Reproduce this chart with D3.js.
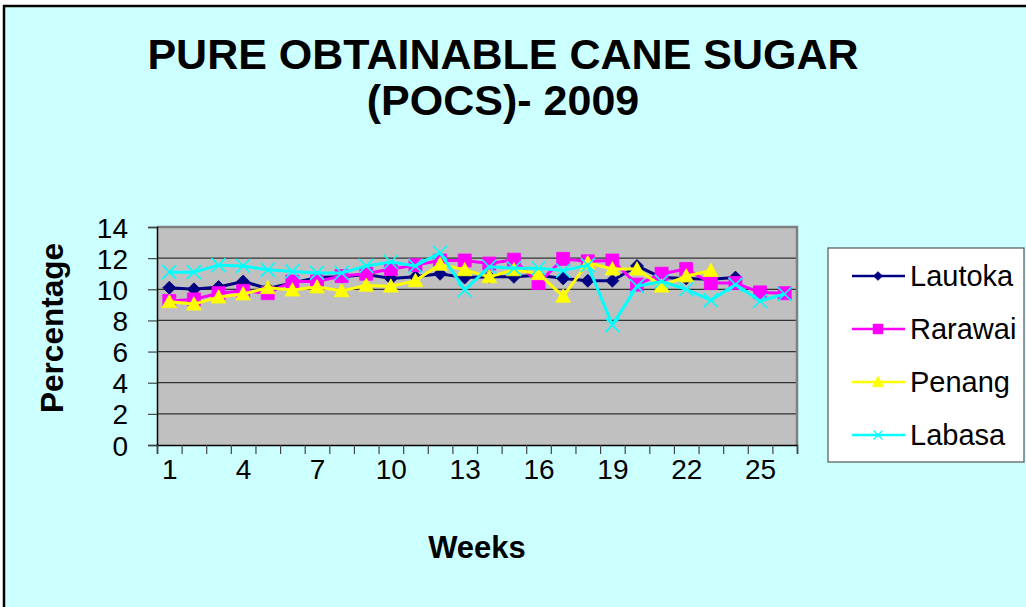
<!DOCTYPE html>
<html><head><meta charset="utf-8">
<script src="https://cdn.jsdelivr.net/npm/d3@7"></script>
<style>
html,body{margin:0;padding:0;background:#fff;}
svg{display:block;font-family:"Liberation Sans",Arial,sans-serif;}
</style></head>
<body>
<svg id="chart" width="1026" height="607"></svg>
<script>
const weeks = d3.range(1, 27);
const xTickLabels = [1, 4, 7, 10, 13, 16, 19, 22, 25];
const yTickLabels = [0, 2, 4, 6, 8, 10, 12, 14];
const seriesNames = ["Lautoka", "Rarawai", "Penang", "Labasa"];
const lautoka = [10.1, 10.0, 10.15, 10.5, 10.05, 10.4, 10.75, 10.8, 10.95, 10.7, 10.8, 11.0, 10.75, 10.8, 10.8, 10.9, 10.7, 10.55, 10.55, 11.5, 10.75, 10.7, 10.65, 10.75, null, null];
const rarawai = [9.25, 9.35, 9.75, 9.9, 9.75, 10.5, 10.5, 10.85, 11.0, 11.3, 11.55, 11.85, 11.85, 11.65, 11.9, 10.4, 11.95, 11.8, 11.85, 10.3, 11.0, 11.3, 10.4, 10.4, 9.8, 9.75];
const penang = [9.2, 9.05, 9.5, 9.7, 10.1, 9.95, 10.15, 9.9, 10.25, 10.2, 10.55, 11.6, 11.25, 10.8, 11.25, 11.0, 9.55, 11.7, 11.3, 11.3, 10.2, 10.85, 11.2, null, null, null];
const labasa = [11.1, 11.1, 11.55, 11.5, 11.25, 11.15, 11.05, 11.05, 11.5, 11.75, 11.5, 12.35, 9.95, 11.45, 11.35, 11.35, 11.2, 11.55, 7.7, 10.2, 10.5, 10.0, 9.3, 10.3, 9.25, 9.7];
const seriesColors = ["#000080", "#FF00FF", "#FFFF00", "#00FFFF"];
const seriesMarkers = ["diamond", "square", "triangle", "cross"];

const series = seriesNames.map((n, i) => ({
  name: n,
  values: [lautoka, rarawai, penang, labasa][i],
  color: seriesColors[i],
  marker: seriesMarkers[i]
}));

const svg = d3.select("#chart");
const L = 157, R = 797, T = 227, B = 445;

// background
svg.append("rect").attr("x", 4).attr("y", 6).attr("width", 1040).attr("height", 620)
  .attr("fill", "#CCFFFF").attr("stroke", "#000").attr("stroke-width", 2.5);

const x = d3.scaleLinear().domain([0.5, 26.5]).range([L, R]);
const y = d3.scaleLinear().domain([0, 14]).range([B, T]);

// plot area
svg.append("rect").attr("x", L).attr("y", T).attr("width", R - L).attr("height", B - T)
  .attr("fill", "#C0C0C0");

// gridlines
svg.append("g").selectAll("line").data(yTickLabels.filter(v => v > 0)).join("line")
  .attr("x1", L).attr("x2", R).attr("y1", d => y(d)).attr("y2", d => y(d))
  .attr("stroke", "#333").attr("stroke-width", 1.2);

// plot border (top, right)
svg.append("path").attr("d", `M${L},${T}H${R}V${B}`).attr("fill", "none")
  .attr("stroke", "#808080").attr("stroke-width", 2.5);

// y axis
const yAxis = svg.append("g").attr("transform", `translate(${L},0)`)
  .call(d3.axisLeft(y).tickValues(yTickLabels).tickSize(9).tickPadding(20).tickFormat(d3.format("d")));
yAxis.select(".domain").attr("stroke", "#000").attr("stroke-width", 1.5);
yAxis.selectAll(".tick line").attr("stroke", "#444").attr("stroke-width", 1.2);
yAxis.selectAll("text").attr("font-size", 28).attr("fill", "#000")
  .attr("font-family", "Liberation Sans, Arial, sans-serif").attr("dy", "0.36em");

// x axis ticks at category boundaries
const bounds = d3.range(0, 27).map(k => k + 0.5);
const xAxis = svg.append("g").attr("transform", `translate(0,${B})`)
  .call(d3.axisBottom(x).tickValues(bounds).tickSize(9).tickFormat(""));
xAxis.select(".domain").attr("stroke", "#000").attr("stroke-width", 1.5);
xAxis.selectAll(".tick line").attr("stroke", "#444").attr("stroke-width", 1.2);

// x labels
const xLab = svg.append("g").attr("transform", `translate(0,${B})`)
  .call(d3.axisBottom(x).tickValues(xTickLabels).tickSize(0).tickPadding(14).tickFormat(d3.format("d")));
xLab.select(".domain").remove();
xLab.selectAll("text").attr("font-size", 28).attr("fill", "#000")
  .attr("font-family", "Liberation Sans, Arial, sans-serif");

// symbols
function markerPath(type, s) {
  if (type === "diamond") return `M0,${-s}L${s},0L0,${s}L${-s},0Z`;
  if (type === "square") return `M${-s},${-s}H${s}V${s}H${-s}Z`;
  if (type === "triangle") return `M0,${-s * 1.05}L${s * 1.05},${s * 0.85}L${-s * 1.05},${s * 0.85}Z`;
  return `M${-s},${-s}L${s},${s}M${s},${-s}L${-s},${s}`;
}
const markerSize = {diamond: 6.5, square: 6.5, triangle: 7, cross: 7};

const line = d3.line().defined(d => d.v != null).x(d => x(d.w)).y(d => y(d.v));

series.forEach(s => {
  const pts = weeks.map((w, i) => ({w, v: s.values[i]}));
  const g = svg.append("g");
  g.append("path").datum(pts).attr("d", line).attr("fill", "none")
    .attr("stroke", s.color).attr("stroke-width", 3).attr("stroke-linejoin", "round");
  g.selectAll("path.m").data(pts.filter(d => d.v != null)).join("path").attr("class", "m")
    .attr("transform", d => `translate(${x(d.w)},${y(d.v)})`)
    .attr("d", markerPath(s.marker, markerSize[s.marker]))
    .attr("fill", s.marker === "cross" ? "none" : s.color)
    .attr("stroke", s.color).attr("stroke-width", s.marker === "cross" ? 1.6 : 0.8);
});

// title
const title = svg.append("text").attr("x", 503).attr("text-anchor", "middle")
  .attr("font-weight", "bold").attr("font-size", 43).attr("fill", "#000");
title.append("tspan").attr("x", 503).attr("y", 69).text("PURE OBTAINABLE CANE SUGAR");
title.append("tspan").attr("x", 503).attr("y", 115).text("(POCS)- 2009");

// axis titles
svg.append("text").attr("transform", `translate(63,328) rotate(-90)`).attr("text-anchor", "middle")
  .attr("font-weight", "bold").attr("font-size", 31.5).attr("fill", "#000").text("Percentage");
svg.append("text").attr("x", 477).attr("y", 558).attr("text-anchor", "middle")
  .attr("font-weight", "bold").attr("font-size", 31).attr("fill", "#000").text("Weeks");

// legend
const lg = svg.append("g");
lg.append("rect").attr("x", 828).attr("y", 248).attr("width", 196).attr("height", 214)
  .attr("fill", "#fff").attr("stroke", "#555").attr("stroke-width", 1.2);
const legendY = d3.scalePoint().domain(seriesNames).range([276, 435]);
series.forEach(s => {
  const yy = legendY(s.name);
  lg.append("line").attr("x1", 852).attr("x2", 905).attr("y1", yy).attr("y2", yy)
    .attr("stroke", s.color).attr("stroke-width", 2.5);
  const ms = {diamond: 4.5, square: 5, triangle: 5.5, cross: 4.5}[s.marker];
  lg.append("path").attr("transform", `translate(878,${yy})`)
    .attr("d", markerPath(s.marker, ms))
    .attr("fill", s.marker === "cross" ? "none" : s.color)
    .attr("stroke", s.color).attr("stroke-width", s.marker === "cross" ? 1.2 : 0.5);
  lg.append("text").attr("x", 910).attr("y", yy).attr("dy", "0.36em")
    .attr("font-size", 29).attr("fill", "#000").text(s.name);
});
</script>
</body></html>
